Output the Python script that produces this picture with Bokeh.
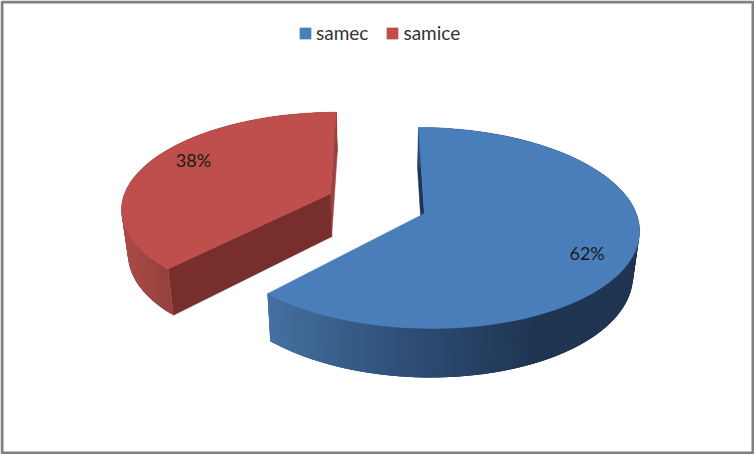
import numpy as np
from bokeh.plotting import figure
from bokeh.models import Legend, LegendItem, Range1d
from bokeh.core.properties import value
from bokeh.embed import file_html
from bokeh.resources import INLINE

categories = ["samec", "samice"]
shares = [62, 38]
labels = ["62%", "38%"]
top_colors = ["#4A7EBB", "#BE4F4C"]

W, H = 754, 454
FONT = "Lato"

# perspective view of the pie, in screen pixels
XC, YC, A, B, K = 378.0, 213.0, 98.4, 212.0, 0.144
DEPTH, DEPTH_SLOPE, SHRINK = 43.0, 0.045, 0.975
apex = [(45.8, 0.0), (-49.5, 0.208)]  # exploded slice centres (X in px, Z in radii)


def top(X, Z):
    d = 1 + K * np.asarray(Z)
    return XC + np.asarray(X) / d, YC - A * np.asarray(Z) / d


def bottom(X, Z):
    sx, sy = top(X, Z)
    return XC + (sx - XC) * SHRINK, sy + DEPTH + DEPTH_SLOPE * (sy - 193.0)


def rim_point(i, theta, rho=1.0):
    return apex[i][0] + B * rho * np.sin(theta), apex[i][1] + rho * np.cos(theta)


def mix(c1, c2, t):
    t = float(np.clip(t, 0, 1))
    return "#%02x%02x%02x" % tuple(int(round(a + (b - a) * t)) for a, b in zip(c1, c2))


fractions = np.array(shares) / sum(shares)
edges = np.concatenate([[0], np.cumsum(fractions)]) * 2 * np.pi

p = figure(width=W, height=H, output_backend="svg", toolbar_location=None,
           x_range=Range1d(0, W), y_range=Range1d(H, 0),
           min_border=0, min_border_left=0, min_border_right=0,
           min_border_top=0, min_border_bottom=0, outline_line_color=None,
           background_fill_color="white", border_fill_color="white")
p.xaxis.visible = False
p.yaxis.visible = False
p.grid.visible = False

ramps = [
    [(0.0, (70, 112, 160)), (0.5, (46, 79, 120)), (1.0, (31, 53, 82))],
    [(0.0, (168, 75, 72)), (1.0, (148, 64, 62))],
]
side_colors = ["#1D3452", "#9C4240"]
front_colors = [None, "#772E2C"]
rim_spans = [(267.0, 535.0), (125.0, 170.0)]

faces = []
for i in [1, 0]:
    a0, a1 = edges[i], edges[i + 1]
    ax, az = apex[i]

    # flat walls of the slice
    wall_angle = a0 if i == 0 else a1
    ex, ez = rim_point(i, wall_angle)
    tx, ty = top([ax, ex], [az, ez])
    bx, by = bottom([ax, ex], [az, ez])
    p.patch(list(tx) + list(bx[::-1]), list(ty) + list(by[::-1]),
            fill_color=side_colors[i], line_color=side_colors[i], line_width=0.5)
    if front_colors[i]:
        ex, ez = rim_point(i, a0)
        tx, ty = top([ax, ex], [az, ez])
        bx, by = bottom([ax, ex], [az, ez])
        p.patch(list(tx) + list(bx[::-1]), list(ty) + list(by[::-1]),
                fill_color=front_colors[i], line_color=front_colors[i], line_width=0.5)

    # outer rim as a shaded band; each strip overlaps the next so no seams show
    th = np.linspace(a0, a1, 121)
    X, Z = rim_point(i, th)
    tx, ty = top(X, Z)
    bx, by = bottom(X, Z)
    xs, ys, cols = [], [], []
    lo, hi = rim_spans[i]
    ramp = ramps[i]
    for j in range(len(th) - 1):
        k = min(j + 3, len(th) - 1)
        xs.append([tx[j], tx[k], bx[k], bx[j]])
        ys.append([ty[j], ty[k], by[k], by[j]])
        u = np.clip((0.5 * (tx[j] + tx[j + 1]) - lo) / (hi - lo), 0, 1)
        for (u0, c0), (u1, c1) in zip(ramp[:-1], ramp[1:]):
            if u0 <= u <= u1:
                cols.append(mix(c0, c1, (u - u0) / (u1 - u0)))
                break
    p.patches(xs, ys, fill_color=cols, line_color=None)

    # top face
    fx, fy = top(np.concatenate([[ax], X]), np.concatenate([[az], Z]))
    r = p.patches([list(fx)], [list(fy)], fill_color=top_colors[i], line_color=top_colors[i],
                  line_width=0.5)
    faces.append((i, r))

# percentage labels
label_x, label_y = [], []
for i in range(2):
    mid = 0.5 * (edges[i] + edges[i + 1]) + np.radians(6.6)
    lx, ly = top(*rim_point(i, mid, 0.81))
    label_x.append(float(lx))
    label_y.append(float(ly))
p.text(label_x, label_y, text=labels, text_align="center", text_baseline="middle",
       text_color="#1a1a1a", text_font=value(FONT), text_font_size="18px")

# frame of the picture
p.quad(left=[1.5], right=[W - 1.5], top=[1.5], bottom=[H - 1.5], fill_color=None,
       line_color="#808080", line_width=3)

faces.sort(key=lambda t: t[0])
legend = Legend(items=[LegendItem(label=categories[i], renderers=[r]) for i, r in faces],
                orientation="horizontal", location=(298, 410), margin=0, padding=0,
                spacing=17, glyph_width=14, glyph_height=14, label_standoff=4,
                label_text_font=FONT, label_text_font_size="19px", label_text_color="#333333",
                background_fill_alpha=0, border_line_color=None)
p.add_layout(legend, "center")

open("out.html", "w").write(file_html(p, INLINE))
